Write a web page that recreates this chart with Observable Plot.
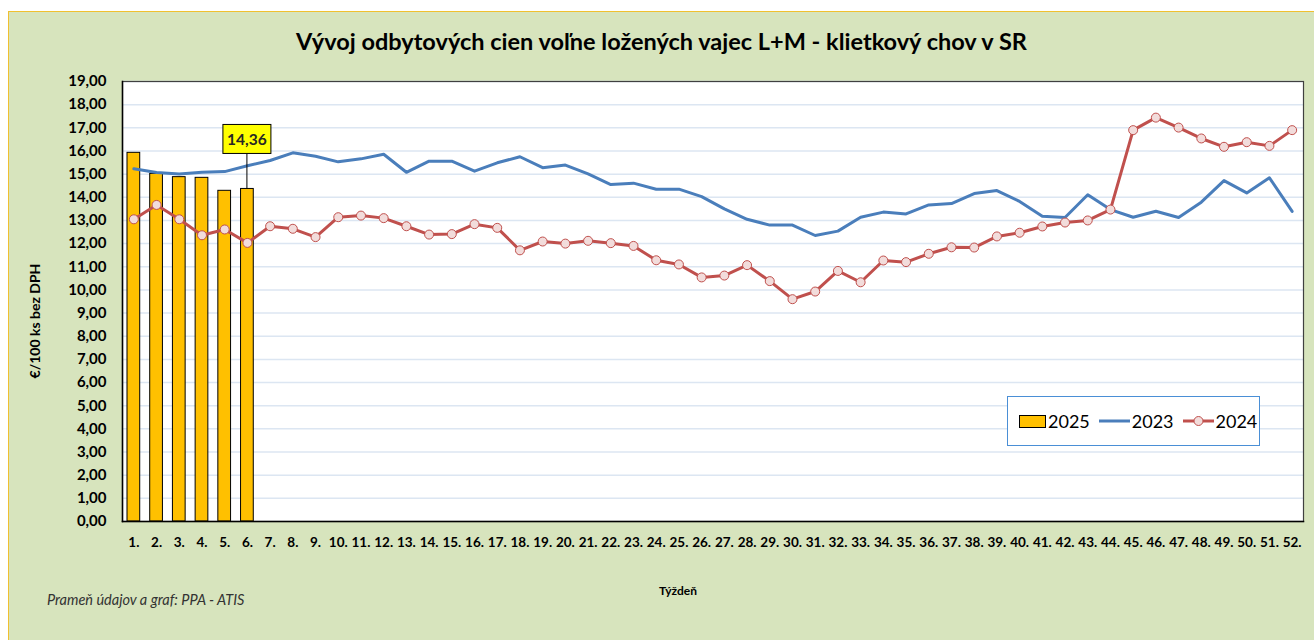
<!DOCTYPE html>
<html>
<head>
<meta charset="utf-8">
<script src="https://cdn.jsdelivr.net/npm/d3@7"></script>
<script src="https://cdn.jsdelivr.net/npm/@observablehq/plot@0.6"></script>
<style>
  html, body { margin: 0; padding: 0; background: #fff; }
  body { width: 1314px; height: 640px; position: relative; overflow: hidden; font-family: Lato, "Open Sans", sans-serif; }
  #box { position: absolute; left: 8px; top: 11px; width: 1306px; height: 629px; box-sizing: border-box;
         background: #D7E4BD; border-top: 1px solid #F0C030; border-left: 1px solid #F0C030; }
  #title { position: absolute; left: 0; width: 1305px; top: 18px; text-align: center; font: bold 23.5px/23px Lato, sans-serif; color: #000; white-space: nowrap; }
  #ylab { position: absolute; left: -74px; width: 200px; top: 302px; text-align: center; font: bold 14px/14px Lato, sans-serif; color: #000;
          transform: rotate(-90deg); transform-origin: 100px 7px; white-space: nowrap; }
  #xlab { position: absolute; left: 569px; width: 200px; top: 573px; text-align: center; font: bold 12px/12px Lato, sans-serif; color: #000; }
  #src { position: absolute; left: 38px; top: 581px; font: italic 14.5px/14px Lato, sans-serif; color: #333; white-space: nowrap; }
  #chart { position: absolute; left: 0; top: 48px; }
  #legend { position: absolute; left: 998px; top: 384px; width: 253px; height: 50px; box-sizing: border-box; background: #fff;
            border: 1px solid #4A8FD6; display: flex; align-items: center; padding-left: 11px; font: 18px/18px Lato, sans-serif; color: #000; }
  #legend .sw { width: 27px; height: 13px; box-sizing: border-box; background: #FFC000; border: 1px solid #000; }
  #legend .t { margin-left: 2px; margin-right: 9px; }
</style>
</head>
<body>
<div id="box">
  <div id="title">Vývoj odbytových cien voľne ložených vajec L+M - klietkový chov v SR</div>
  <div id="ylab">€/100 ks bez DPH</div>
  <div id="chart"></div>
  <div id="legend">
    <div class="sw"></div><span class="t">2025</span>
    <svg width="31" height="12"><line x1="0" x2="31" y1="6" y2="6" stroke="#4A7EBB" stroke-width="3"/></svg><span class="t">2023</span>
    <svg width="31" height="12"><line x1="0" x2="31" y1="6" y2="6" stroke="#C0504D" stroke-width="3"/><circle cx="15.5" cy="6" r="4.5" fill="#F2DCDB" stroke="#C0504D" stroke-width="1"/></svg><span class="t" style="margin-right:0">2024</span>
  </div>
  <div id="xlab">Týždeň</div>
  <div id="src">Prameň údajov a graf: PPA - ATIS</div>
</div>
<script>
const weeks = [1,2,3,4,5,6,7,8,9,10,11,12,13,14,15,16,17,18,19,20,21,22,23,24,25,26,
               27,28,29,30,31,32,33,34,35,36,37,38,39,40,41,42,43,44,45,46,47,48,49,50,51,52];
const yTicks = [0,1,2,3,4,5,6,7,8,9,10,11,12,13,14,15,16,17,18,19];

const values2025 = [15.92, 15.01, 14.87, 14.84, 14.28, 14.36];

const values2023 = [15.23, 15.07, 15.01, 15.08, 15.11, 15.36, 15.59, 15.92, 15.77, 15.53,
                    15.66, 15.86, 15.08, 15.56, 15.56, 15.13, 15.49, 15.75, 15.28, 15.39,
                    15.01, 14.55, 14.61, 14.35, 14.35, 14.03, 13.50, 13.05, 12.80, 12.80,
                    12.35, 12.54, 13.14, 13.36, 13.28, 13.67, 13.73, 14.16, 14.29, 13.82,
                    13.18, 13.13, 14.11, 13.47, 13.14, 13.40, 13.13, 13.79, 14.72, 14.19,
                    14.84, 13.39];

const values2024 = [13.05, 13.67, 13.05, 12.36, 12.61, 12.03, 12.75, 12.64, 12.28, 13.14,
                    13.21, 13.10, 12.75, 12.39, 12.41, 12.84, 12.68, 11.71, 12.09, 12.00,
                    12.12, 12.02, 11.90, 11.28, 11.10, 10.54, 10.62, 11.07, 10.38, 9.60,
                    9.93, 10.82, 10.33, 11.27, 11.20, 11.56, 11.84, 11.83, 12.31, 12.47,
                    12.74, 12.91, 13.00, 13.47, 16.90, 17.44, 17.01, 16.54, 16.18, 16.38,
                    16.22, 16.90];

const annotatedWeek = 6;
const annotatedValue = 14.36;

const bars = values2025.map((v, i) => ({week: weeks[i], value: v}));
const s2023 = values2023.map((v, i) => ({week: weeks[i], value: v}));
const s2024 = values2024.map((v, i) => ({week: weeks[i], value: v}));

const fmt = d => d.toFixed(2).replace(".", ",");

const chart = Plot.plot({
  width: 1305,
  height: 500,
  marginLeft: 113,
  marginRight: 11,
  marginTop: 21,
  marginBottom: 39,
  style: {fontFamily: "Lato, sans-serif", color: "#000", background: "transparent", overflow: "visible"},
  x: {type: "band", domain: weeks, paddingInner: 0.44, paddingOuter: 0.22, label: null},
  y: {domain: [0, 19], label: null},
  marks: [
    Plot.frame({fill: "#fff"}),
    Plot.gridY(yTicks.filter(d => d > 0), {stroke: "#DCE6F2", strokeOpacity: 1, strokeWidth: 1.5}),
    Plot.barY(bars, {x: "week", y: "value", fill: "#FFC000", stroke: "#000", strokeWidth: 1}),
    Plot.line(s2023, {x: "week", y: "value", stroke: "#4A7EBB", strokeWidth: 3}),
    Plot.line(s2024, {x: "week", y: "value", stroke: "#C0504D", strokeWidth: 3}),
    Plot.dot(s2024, {x: "week", y: "value", r: 4.5, fill: "#F2DCDB", stroke: "#C0504D", strokeWidth: 1}),
    Plot.frame({stroke: "#404040", strokeWidth: 1.2}),
    Plot.frame({anchor: "left", stroke: "#000", strokeWidth: 1.5}),
    Plot.frame({anchor: "bottom", stroke: "#000", strokeWidth: 1.5}),
    Plot.axisX({tickSize: 0, tickPadding: 16, fontSize: 13.5, fontWeight: "bold", tickFormat: d => d + ".", label: null}),
    Plot.axisY({ticks: yTicks, tickSize: 0, tickPadding: 16, fontSize: 15, fontWeight: "bold", tickFormat: fmt, label: null})
  ]
});
document.getElementById("chart").appendChild(chart);

// Data label for the latest 2025 value, positioned through the plot's scales
const sx = chart.scale("x"), sy = chart.scale("y");
const px = sx.apply(annotatedWeek) + sx.bandwidth / 2;
const py = sy.apply(annotatedValue);
const svg = d3.select(chart);
const g = svg.append("g");
const boxW = 48, boxH = 29, gap = 35;
g.append("line").attr("x1", px).attr("x2", px).attr("y1", py).attr("y2", py - gap)
  .attr("stroke", "#000").attr("stroke-width", 1);
g.append("rect").attr("x", px - boxW / 2).attr("y", py - gap - boxH).attr("width", boxW).attr("height", boxH)
  .attr("fill", "#FFFF00").attr("stroke", "#000").attr("stroke-width", 1);
g.append("text").attr("x", px).attr("y", py - gap - boxH / 2).attr("dy", "0.36em")
  .attr("text-anchor", "middle").attr("font-family", "Lato, sans-serif").attr("font-weight", "bold")
  .attr("font-size", 15.5).attr("fill", "#262626").text(fmt(annotatedValue));
</script>
</body>
</html>
